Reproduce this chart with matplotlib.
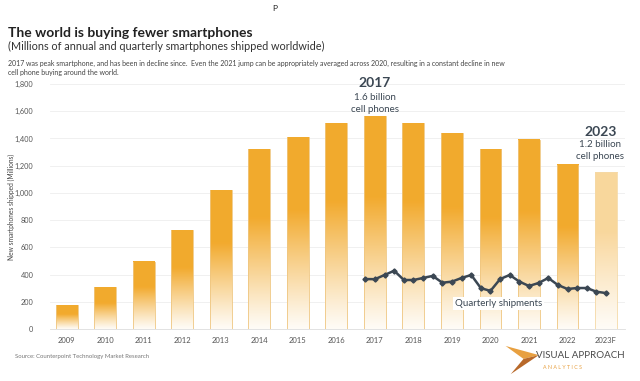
import matplotlib
matplotlib.use("Agg")
import matplotlib.pyplot as plt
import numpy as np
from matplotlib.patches import Polygon

plt.rcParams['font.family'] = ['Lato', 'DejaVu Sans']

years = ["2009", "2010", "2011", "2012", "2013", "2014", "2015", "2016",
         "2017", "2018", "2019", "2020", "2021", "2022", "2023F"]
annual = [174, 305, 495, 725, 1019, 1320, 1410, 1510,
          1565, 1510, 1440, 1320, 1390, 1205, 1150]

# quarterly shipments, 2017 Q1 .. 2023 Q2
quarterly = [367, 366, 397, 428, 360, 360, 375, 390,
             340, 348, 375, 397, 300, 280, 367, 397,
             348, 316, 338, 375, 323, 294, 301, 301,
             274, 264]

ORANGE = np.array([0.949, 0.667, 0.180])
SLATE = "#3b4753"


def main():
    fig = plt.figure(figsize=(6.4, 3.81), dpi=100)
    ax = fig.add_axes([0.078, 0.1365, 0.899, 0.643])

    x = np.arange(len(years))
    w = 0.57
    t = np.linspace(0, 1, 200)
    for i, v in enumerate(annual):
        f = np.clip(t / 0.62, 0, 1) ** 1.1
        f = 0.04 + 0.96 * f
        if years[i].endswith("F"):
            f = 0.45 * f + 0.02
        img = np.ones((len(t), 1, 3)) * (1 - f)[:, None, None] + ORANGE * f[:, None, None]
        ax.imshow(img, extent=[x[i] - w / 2, x[i] + w / 2, 0, v], origin="lower",
                  aspect="auto", zorder=1, interpolation="bilinear")
        ec = "#f5d9a6" if years[i].endswith("F") else "#efc680"
        ax.plot([x[i] - w / 2, x[i] - w / 2], [0, v], color=ec, lw=0.6, zorder=1.5)
        ax.plot([x[i] + w / 2, x[i] + w / 2], [0, v], color=ec, lw=0.6, zorder=1.5)
        if years[i].endswith("F"):
            ax.plot([x[i] - w / 2, x[i] + w / 2], [v, v], color=ec, lw=0.6, zorder=1.5)

    qx = 7.75 + 0.25 * np.arange(len(quarterly))
    ax.plot(qx, quarterly, color=SLATE, lw=1.8, marker="D", ms=2.6, zorder=3)
    ax.text(8.0 + 3.2, 185, "Quarterly shipments", fontsize=7, color=SLATE,
            ha="center", va="center", zorder=4,
            bbox=dict(facecolor="white", edgecolor="none", pad=1.5))

    ax.set_xlim(-0.44, 14.5)
    ax.set_ylim(0, 1800)
    ax.set_xticks(x)
    ax.set_xticklabels(years, fontsize=5.5, color="#555555")
    ax.set_yticks(range(0, 1801, 200))
    ax.set_yticklabels([f"{v:,}" for v in range(0, 1801, 200)], fontsize=5.3, color="#555555")
    ax.tick_params(axis="x", length=0, pad=6)
    ax.tick_params(axis="y", length=0, pad=12)
    ax.grid(axis="y", color="#eeeeee", lw=0.6, zorder=0)
    ax.set_axisbelow(True)
    for s in ["top", "right", "left"]:
        ax.spines[s].set_visible(False)
    ax.spines["bottom"].set_color("#dddddd")
    ax.spines["bottom"].set_linewidth(0.6)
    ax.set_ylabel("New smartphones shipped (Millions)", fontsize=4.8, color="#444444")
    ax.yaxis.set_label_coords(-0.06, 0.5)

    # annotations
    ax.text(8, 1810, "2017", fontsize=10, fontweight="bold", color=SLATE, ha="center", va="center")
    ax.text(8, 1700, "1.6 billion", fontsize=7, color=SLATE, ha="center", va="center")
    ax.text(8, 1615, "cell phones", fontsize=7, color=SLATE, ha="center", va="center")
    ax.text(13.85, 1450, "2023", fontsize=10, fontweight="bold", color=SLATE, ha="center", va="center")
    ax.text(13.85, 1355, "1.2 billion", fontsize=7, color=SLATE, ha="center", va="center")
    ax.text(13.85, 1265, "cell phones", fontsize=7, color=SLATE, ha="center", va="center")

    # header texts
    fig.text(0.43, 0.978, "P", fontsize=6, color="#222222", ha="center", va="center")
    fig.text(0.0125, 0.913, "The world is buying fewer smartphones", fontsize=10,
             fontweight="bold", color="#222222", va="center")
    fig.text(0.0125, 0.877, "(Millions of annual and quarterly smartphones shipped worldwide)",
             fontsize=7.8, color="#333333", va="center")
    fig.text(0.0125, 0.834,
             "2017 was peak smartphone, and has been in decline since.  Even the 2021 jump can be "
             "appropriately averaged across 2020, resulting in a constant decline in new",
             fontsize=5, color="#444444", va="center")
    fig.text(0.0125, 0.811, "cell phone buying around the world.", fontsize=5,
             color="#444444", va="center")
    fig.text(0.023, 0.063, "Source: Counterpoint Technology Market Research", fontsize=4.3,
             color="#777777", va="center")

    # logo
    fig.patches.append(Polygon([[0.790, 0.092], [0.842, 0.068], [0.818, 0.058]],
                               closed=True, transform=fig.transFigure,
                               facecolor="#e8a040", edgecolor="none"))
    fig.patches.append(Polygon([[0.818, 0.058], [0.842, 0.068], [0.798, 0.018]],
                               closed=True, transform=fig.transFigure,
                               facecolor="#b8692a", edgecolor="none"))
    fig.text(0.838, 0.066, "VISUAL APPROACH", fontsize=7, color="#4a4a4a", va="center")
    fig.text(0.848, 0.036, "A N A L Y T I C S", fontsize=3.8, color="#e8a040", va="center")

    fig.savefig("out.png", dpi=100, facecolor="white")


if __name__ == '__main__':
    main()
